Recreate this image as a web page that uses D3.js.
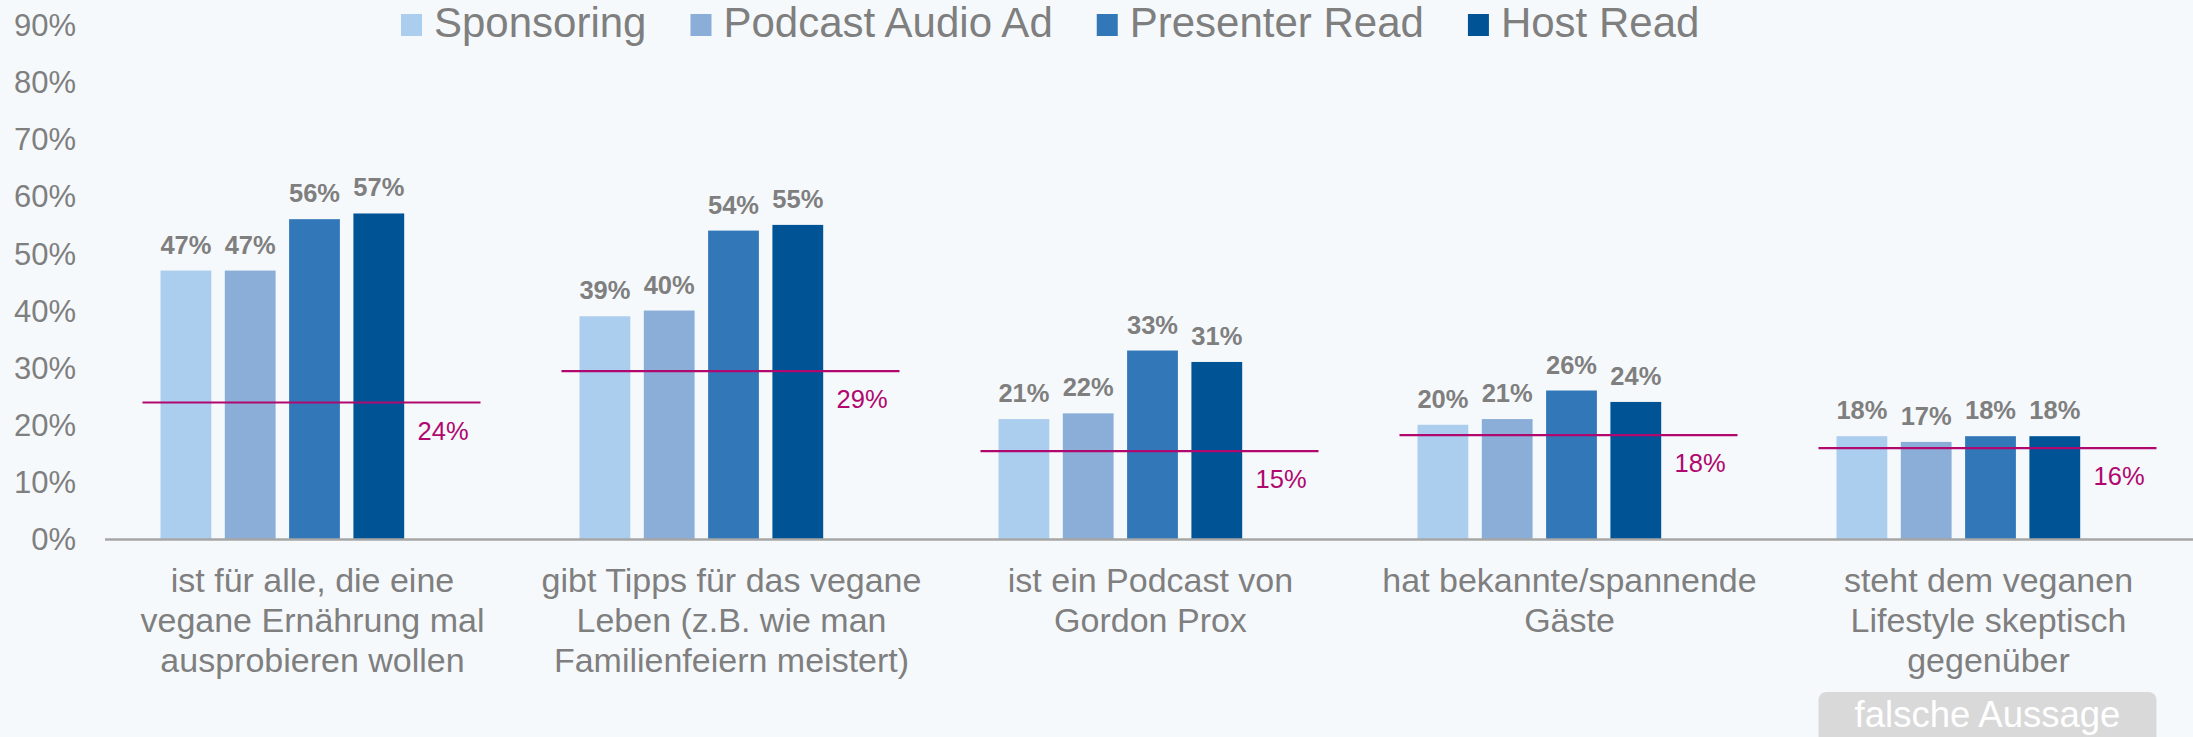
<!DOCTYPE html>
<html>
<head>
<meta charset="utf-8">
<script src="https://cdn.jsdelivr.net/npm/d3@7"></script>
<style>
  html, body { margin: 0; padding: 0; background: #F6F9FC; }
  svg { display: block; }
  text { font-family: "Liberation Sans", Arial, sans-serif; }
</style>
</head>
<body>
<svg id="chart" width="2193" height="737"></svg>
<script>
const categories = [
  ["ist für alle, die eine", "vegane Ernährung mal", "ausprobieren wollen"],
  ["gibt Tipps für das vegane", "Leben (z.B. wie man", "Familienfeiern meistert)"],
  ["ist ein Podcast von", "Gordon Prox"],
  ["hat bekannte/spannende", "Gäste"],
  ["steht dem veganen", "Lifestyle skeptisch", "gegenüber"]
];
const seriesNames = ["Sponsoring", "Podcast Audio Ad", "Presenter Read", "Host Read"];
const seriesColors = ["#ABCDEE", "#8AAED7", "#3277B8", "#005496"];
const sponsoring   = [47, 39, 21, 20, 18];
const podcastAudio = [47, 40, 22, 21, 17];
const presenter    = [56, 54, 33, 26, 18];
const hostRead     = [57, 55, 31, 24, 18];
const average      = [23.9, 29.4, 15.4, 18.2, 15.9];
const yTicks = [0, 10, 20, 30, 40, 50, 60, 70, 80, 90];
const noteLabel = "falsche Aussage";
const noteCategoryIndex = 4;

const seriesValues = [sponsoring, podcastAudio, presenter, hostRead];

const svg = d3.select("#chart");
const W = 2193, H = 737;
svg.append("rect").attr("width", W).attr("height", H).attr("fill", "#F6F9FC");

const gray = "#7F7F7F";
const magenta = "#B0086E";

const y = d3.scaleLinear().domain([0, 90]).range([539, 25]);
const catIdx = d3.range(categories.length);
const x0 = d3.scaleBand().domain(catIdx).range([105, 2200]).padding(0);
const slots = d3.range(5); // 4 series + average slot
const x1 = d3.scaleBand().domain(slots).range([55.5, x0.bandwidth() - 55.5]).paddingInner(0.21).paddingOuter(0);

// y tick labels
svg.append("g").selectAll("text").data(yTicks).join("text")
  .attr("x", 76).attr("y", d => y(d)).attr("dy", "0.36em")
  .attr("text-anchor", "end").attr("font-size", 31).attr("fill", gray)
  .text(d => d + "%");

// bars
const groups = svg.append("g").selectAll("g").data(catIdx).join("g")
  .attr("transform", i => `translate(${x0(i)},0)`);

seriesValues.forEach((vals, s) => {
  groups.append("rect")
    .attr("x", x1(s)).attr("width", x1.bandwidth())
    .attr("y", i => y(vals[i])).attr("height", i => y(0) - y(vals[i]))
    .attr("fill", seriesColors[s]);
  groups.append("text")
    .attr("x", x1(s) + x1.bandwidth() / 2)
    .attr("y", i => y(vals[i]) - 17)
    .attr("text-anchor", "middle").attr("font-size", 25.5).attr("font-weight", "bold")
    .attr("fill", gray)
    .text(i => vals[i] + "%");
});

// axis line
svg.append("line").attr("x1", 105).attr("x2", W).attr("y1", y(0) + 0.5).attr("y2", y(0) + 0.5)
  .attr("stroke", "#A6A6A6").attr("stroke-width", 2.5);

// average lines
groups.append("line")
  .attr("x1", x0.bandwidth() / 2 - 3 - 169).attr("x2", x0.bandwidth() / 2 - 3 + 169)
  .attr("y1", i => y(average[i])).attr("y2", i => y(average[i]))
  .attr("stroke", magenta).attr("stroke-width", 2.2);
groups.append("text")
  .attr("x", x1(4) + x1.bandwidth() / 2)
  .attr("y", i => y(average[i]) + 37)
  .attr("text-anchor", "middle").attr("font-size", 25.5).attr("fill", magenta)
  .text(i => Math.round(average[i]) + "%");

// category labels
groups.each(function(i) {
  const t = d3.select(this).append("text")
    .attr("text-anchor", "middle").attr("font-size", 34).attr("fill", gray);
  categories[i].forEach((line, k) => {
    t.append("tspan").attr("x", x0.bandwidth() / 2 - 2).attr("y", 592 + k * 40).text(line);
  });
});

// note box
const nx = x0(noteCategoryIndex) + x0.bandwidth() / 2 - 3 - 169;
svg.append("rect").attr("x", nx).attr("y", 692).attr("width", 338).attr("height", 60)
  .attr("rx", 8).attr("fill", "#D9D9D9");
svg.append("text").attr("x", nx + 169).attr("y", 727).attr("text-anchor", "middle")
  .attr("font-size", 36.5).attr("fill", "#FFFFFF").text(noteLabel);

// legend
let lx = 401;
const legend = svg.append("g");
seriesNames.forEach((name, s) => {
  legend.append("rect").attr("x", lx).attr("y", 14).attr("width", 21).attr("height", 22)
    .attr("fill", seriesColors[s]);
  const t = legend.append("text").attr("x", lx + 33).attr("y", 37)
    .attr("font-size", 42).attr("fill", gray).text(name);
  const w = t.node().getComputedTextLength();
  lx = lx + 33 + w + 44;
});
</script>
</body>
</html>
